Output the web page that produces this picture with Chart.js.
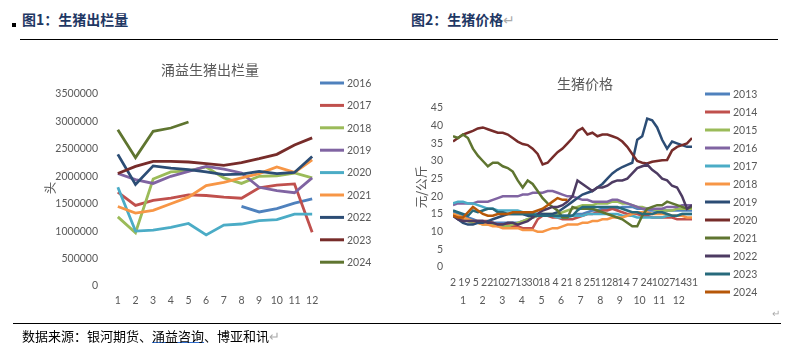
<!DOCTYPE html>
<html><head><meta charset="utf-8">
<script src="https://cdn.jsdelivr.net/npm/chart.js@4/dist/chart.umd.min.js"></script>
<style>
body{margin:0;background:#fff;width:791px;height:359px;position:relative;overflow:hidden;font-family:"Noto Sans CJK SC",sans-serif;}
.abs{position:absolute;white-space:nowrap;}
.h{font-size:14px;line-height:20px;font-weight:bold;color:#1F3864;}
canvas{position:absolute;top:0;}
</style></head><body>
<div class="abs" style="left:12px;top:23px;width:4px;height:4px;background:#000"></div>
<div class="abs h" style="left:22px;top:9px;">图1：生猪出栏量</div>
<div class="abs h" style="left:411px;top:9px;">图2：生猪价格<span style="color:#aaa;font-weight:normal">↵</span></div>
<div class="abs" style="left:20px;top:39px;width:758px;height:1px;background:#000"></div>
<canvas id="c1" width="400" height="330" style="left:0"></canvas>
<canvas id="c2" width="391" height="330" style="left:400px"></canvas>
<div class="abs" style="left:772px;top:305px;font-size:10px;color:#aaa">↵</div>
<div class="abs" style="left:13px;top:323px;width:768px;height:1px;background:#000"></div>
<div class="abs" style="left:22px;top:327px;font-size:13px;line-height:18px;color:#000">数据来源：银河期货、<span style="text-decoration:underline;text-decoration-color:#2F6FD0">涌益咨询</span>、博亚和讯<span style="color:#aaa">↵</span></div>
<script>
// ---------- Chart 1 data: 涌益生猪出栏量 ----------
const months = ['1','2','3','4','5','6','7','8','9','10','11','12'];
const outYears = ['2016','2017','2018','2019','2020','2021','2022','2023','2024'];
const out2016 = [null,null,null,null,null,null,null,1450000,1350000,1410000,1510000,1590000];
const out2017 = [1710000,1470000,1560000,1600000,1660000,1650000,1620000,1600000,1790000,1840000,1860000,980000];
const out2018 = [1260000,970000,1950000,2080000,2100000,2170000,1970000,1870000,2000000,2010000,2060000,1970000];
const out2019 = [2050000,1940000,1870000,2000000,2090000,2180000,2130000,2060000,1800000,1740000,1700000,1970000];
const out2020 = [1800000,1000000,1020000,1070000,1140000,930000,1110000,1130000,1190000,1210000,1310000,1310000];
const out2021 = [1450000,1330000,1380000,1500000,1620000,1830000,1890000,1970000,2050000,2170000,2070000,2300000];
const out2022 = [2400000,1850000,2190000,2150000,2120000,2080000,2030000,2040000,2090000,2050000,2070000,2360000];
const out2023 = [2050000,2180000,2270000,2270000,2260000,2230000,2200000,2250000,2320000,2400000,2570000,2700000];
const out2024 = [2850000,2340000,2820000,2880000,2990000];
const outSeries = [out2016,out2017,out2018,out2019,out2020,out2021,out2022,out2023,out2024];
const outColors = ['#4F81BD','#C0504D','#9BBB59','#8064A2','#4BACC6','#F79646','#2C4D75','#772C2A','#5F7530'];

// ---------- Chart 2 data: 生猪价格 (元/公斤), sampled along the year ----------
const priceYears = ['2013','2014','2015','2016','2017','2018','2019','2020','2021','2022','2023','2024'];
const p2013 = [15.5,15,14.5,14,13.5,13,13,12.5,12.5,12.5,12.5,12.5,12.5,12.5,13,13.5,14,14.5,14.5,14.5,14.5,14.5,14.5,14.5,14.5,15,15,15.5,16,16,16.5,16.5,16.5,16.5,17,17,17,16.5,16.5,16,16,16,16,16,16,16,16,16,16];
const p2014 = [14.5,14,13.5,13,13,13,13,13,12.5,12,12,12,11.5,11.5,11,11,11,13.5,14.5,14.5,14,14,13.5,13.5,13.5,14,14.5,15,15,15.5,16,16,16.5,16,15.5,15,15,15,14.5,14.5,14,14,14,14,14,13.5,13.5,13.5,13.5];
const p2015 = [15,14.5,14,13,12.5,12.5,12,12,12,11.5,11.5,11.5,12,12.5,13,13.5,14,14.5,15,15,15,15,15.5,16,16.5,17,17.5,17.5,17.5,18,18,18,18.5,18.5,18,18,17.5,17,17,16.5,16.5,16,16,16,16,16.5,16.5,16.5,16.5];
const p2016 = [17.5,18,18,18,18,18.5,18.5,18.5,19,19.5,20,20,20,20,20.5,20.5,21,21,21,21.5,21.5,21,20.5,20,20,19.5,19,19,18.5,18.5,18.5,18.5,19,19,18.5,18,17.5,17,16.5,16.5,16.5,16.5,16.5,17,17,17,17.5,17.5,17.5];
const p2017 = [18,18.5,18.5,18,18,17.5,17,16.5,16.5,16,16,16,16,16,15.5,15.5,15.5,15,15,14.5,14.5,14,14,14,14.5,14.5,14.5,15,15,15,15,15,15,15,14.5,14.5,14.5,14,14,14,14,14,14,14.5,14.5,14.5,15,15,15];
const p2018 = [15,14.5,14,13.5,13,12.5,12,12,11.5,11.5,11,11,11,11,10.5,10.5,10.5,10,10,10.5,11,11,11.5,12,12,12,12.5,12.5,13,13,13.5,13.5,14,14,14,14.5,15,15.5,15.5,15.5,15,15,15,15,14.5,14.5,14.5,14,14];
const p2019 = [14.5,13.5,12.5,12,12,12.5,12.5,13,13.5,14,14.5,15,15,15,15,14.5,14.5,14.5,15,15,15,15.5,16.5,17.5,18.5,19.5,20.5,21,21.5,22.5,23.5,25,26.5,27.5,28.3,28.9,29.5,36,37,42,41.5,39.5,36,33.5,35.5,35,34.5,34,34];
const p2020 = [35.5,36.5,37.5,38,38.5,39.2,39.5,39,38.5,38,38,37.5,36.5,35.5,34.8,34.5,33.5,32,29,29.5,31,32.5,33.5,35,36.5,38.5,39.3,37.5,38,37,37.5,37.5,37,36.5,35.5,34,32,30,29.5,29.3,29.8,30,30.2,30.3,33,34,34.5,35,36.5];
const p2021 = [37,36.5,37.5,36.5,33.5,31.5,30,28.5,29.5,29.5,28.5,28,27,24.5,22.5,24.5,23.5,21.5,19.5,18,17,16,14,14,17,16.5,16.5,16.5,16.5,16,15.5,15,14.5,14,13.5,12.5,11.5,11.5,14.5,16.5,17,17.5,17.5,18.5,18,17.5,17,16.5,17];
const p2022 = [14.5,13.5,13,13,13,13,13,12.5,12.5,12,12,12.5,12.5,12,12.5,13,14,15,16,16.5,17,17,17.5,18.5,20,24.5,23.5,22.5,21.5,22.5,22.5,23,24,24.5,24.5,25,26.5,28,28.5,29,27.5,26.5,25,24.5,23,22.5,20,16.5,17.5];
const p2023 = [16,15.5,15,14.5,16,15.5,16,16.5,16.5,15.5,15.5,15,15,15,15,15,15,14.5,14.5,14.5,14.5,14.5,14.5,14.5,14.5,16,17,17,17,17,17,17,17,17,16.5,16,15.5,15.5,15,15,15,15.5,15.5,15,14.5,14.5,15,15,15];
const p2024 = [14.5,14,14,15.5,17,16,15,14.5,14.5,15,15,15,15.5,15.5,15.5,15.5,15.5,16,16.5,17.5,18.5,19.5,19,19];
const priceSeries = [p2013,p2014,p2015,p2016,p2017,p2018,p2019,p2020,p2021,p2022,p2023,p2024];
const priceColors = ['#4F81BD','#C0504D','#9BBB59','#8064A2','#4BACC6','#F79646','#2C4D75','#772C2A','#5F7530','#4D3B62','#276A7C','#B65708'];
const dayLabels = ['2','19','5','22','10','27','13','30','18','4','21','8','25','11','28','14','7','24','10','27','14','31'];
const monthLabels = ['1','2','3','4','5','6','7','8','9','10','11','12'];

const TICK = '#595959';
const NUMFONT = 'Lato';
const overlay = {
  id:'overlay',
  afterDraw(chart, args, o){
    const ctx = chart.ctx;
    ctx.save();
    ctx.fillStyle = TICK;
    ctx.textBaseline = 'middle';
    ctx.textAlign = 'center';
    ctx.font = '14px "Noto Sans CJK SC"';
    ctx.fillText(o.title, o.titleX, o.titleY);
    ctx.save();
    ctx.translate(o.axX, o.axY);
    ctx.rotate(-Math.PI/2);
    ctx.font = '12.5px "Noto Sans CJK SC"';
    ctx.fillText(o.axTitle, 0, 0);
    ctx.restore();
    ctx.textAlign = 'left';
    ctx.font = '10.5px ' + NUMFONT;
    chart.data.datasets.forEach((ds,i)=>{
      const y = o.legY + i*o.legGap;
      ctx.strokeStyle = ds.borderColor;
      ctx.lineWidth = 3;
      ctx.beginPath(); ctx.moveTo(o.legX, y); ctx.lineTo(o.legX + o.legLen, y); ctx.stroke();
      ctx.fillText(ds.label, o.legX + o.legLen + 3, y + 0.5);
    });
    ctx.restore();
  }
};

const noGrid = {display:false, drawTicks:false};
const tickFont = {family:NUMFONT, size:10.5};

new Chart(document.getElementById('c1'), {
  type:'line',
  data:{
    labels:months,
    datasets: outYears.map((y,i)=>({label:y, data:outSeries[i], borderColor:outColors[i], backgroundColor:outColors[i],
      borderWidth:2.8, pointRadius:0, tension:0, fill:false, order: outYears.length - i}))
  },
  options:{
    responsive:false, animation:false, devicePixelRatio:1,
    layout:{padding:{left:0,right:79,top:94,bottom:20}},
    plugins:{legend:{display:false}, tooltip:{enabled:false},
      overlay:{title:'涌益生猪出栏量', titleX:210, titleY:70, axTitle:'头', axX:50, axY:188,
               legX:320, legLen:24, legY:83, legGap:22.4}},
    scales:{
      x:{offset:true, grid:noGrid, border:{display:false},
         ticks:{color:TICK, font:tickFont, padding:8, autoSkip:false, maxRotation:0, minRotation:0},
         afterFit:s=>{s.height=24;}},
      y:{min:0, max:3500000, grid:noGrid, border:{display:false},
         ticks:{stepSize:500000, color:TICK, font:tickFont, padding:11, callback:v=>String(v)},
         afterFit:s=>{s.width=109;}}
    }
  },
  plugins:[overlay]
});

const XMAX = p2013.length - 1;
new Chart(document.getElementById('c2'), {
  type:'line',
  data:{
    datasets: priceYears.map((y,i)=>({label:y, data:priceSeries[i].map((v,k)=>({x:k, y:v})),
      borderColor:priceColors[i], backgroundColor:priceColors[i],
      borderWidth:2.5, pointRadius:0, tension:0, fill:false, order: priceYears.length - i}))
  },
  options:{
    responsive:false, animation:false, devicePixelRatio:1,
    layout:{padding:{left:0,right:99,top:108,bottom:23}},
    plugins:{legend:{display:false}, tooltip:{enabled:false},
      overlay:{title:'生猪价格', titleX:185, titleY:84, axTitle:'元/公斤', axX:21, axY:187,
               legX:305, legLen:25, legY:94, legGap:18}},
    scales:{
      x:{type:'linear', min:0, max:XMAX, position:'bottom', weight:0, grid:noGrid, border:{display:false},
         afterBuildTicks:s=>{ s.ticks = dayLabels.map((d,i)=>({value: i*XMAX/(dayLabels.length-1)})); },
         ticks:{color:TICK, font:tickFont, padding:9, autoSkip:false, maxRotation:0, minRotation:0,
                callback:(v,i)=>dayLabels[i]},
         afterFit:s=>{s.height=22;}},
      m:{type:'linear', min:0, max:XMAX, position:'bottom', weight:1, grid:noGrid, border:{display:false},
         afterBuildTicks:s=>{ s.ticks = monthLabels.map((d,i)=>({value: 2 + i*3.94})); },
         ticks:{color:TICK, font:tickFont, padding:5, autoSkip:false, maxRotation:0, minRotation:0,
                callback:(v,i)=>monthLabels[i]},
         afterFit:s=>{s.height=18;}},
      y:{min:0, max:45, grid:noGrid, border:{display:false},
         ticks:{stepSize:5, color:TICK, font:tickFont, padding:10},
         afterFit:s=>{s.width=53;}}
    }
  },
  plugins:[overlay]
});
</script>
</body></html>
